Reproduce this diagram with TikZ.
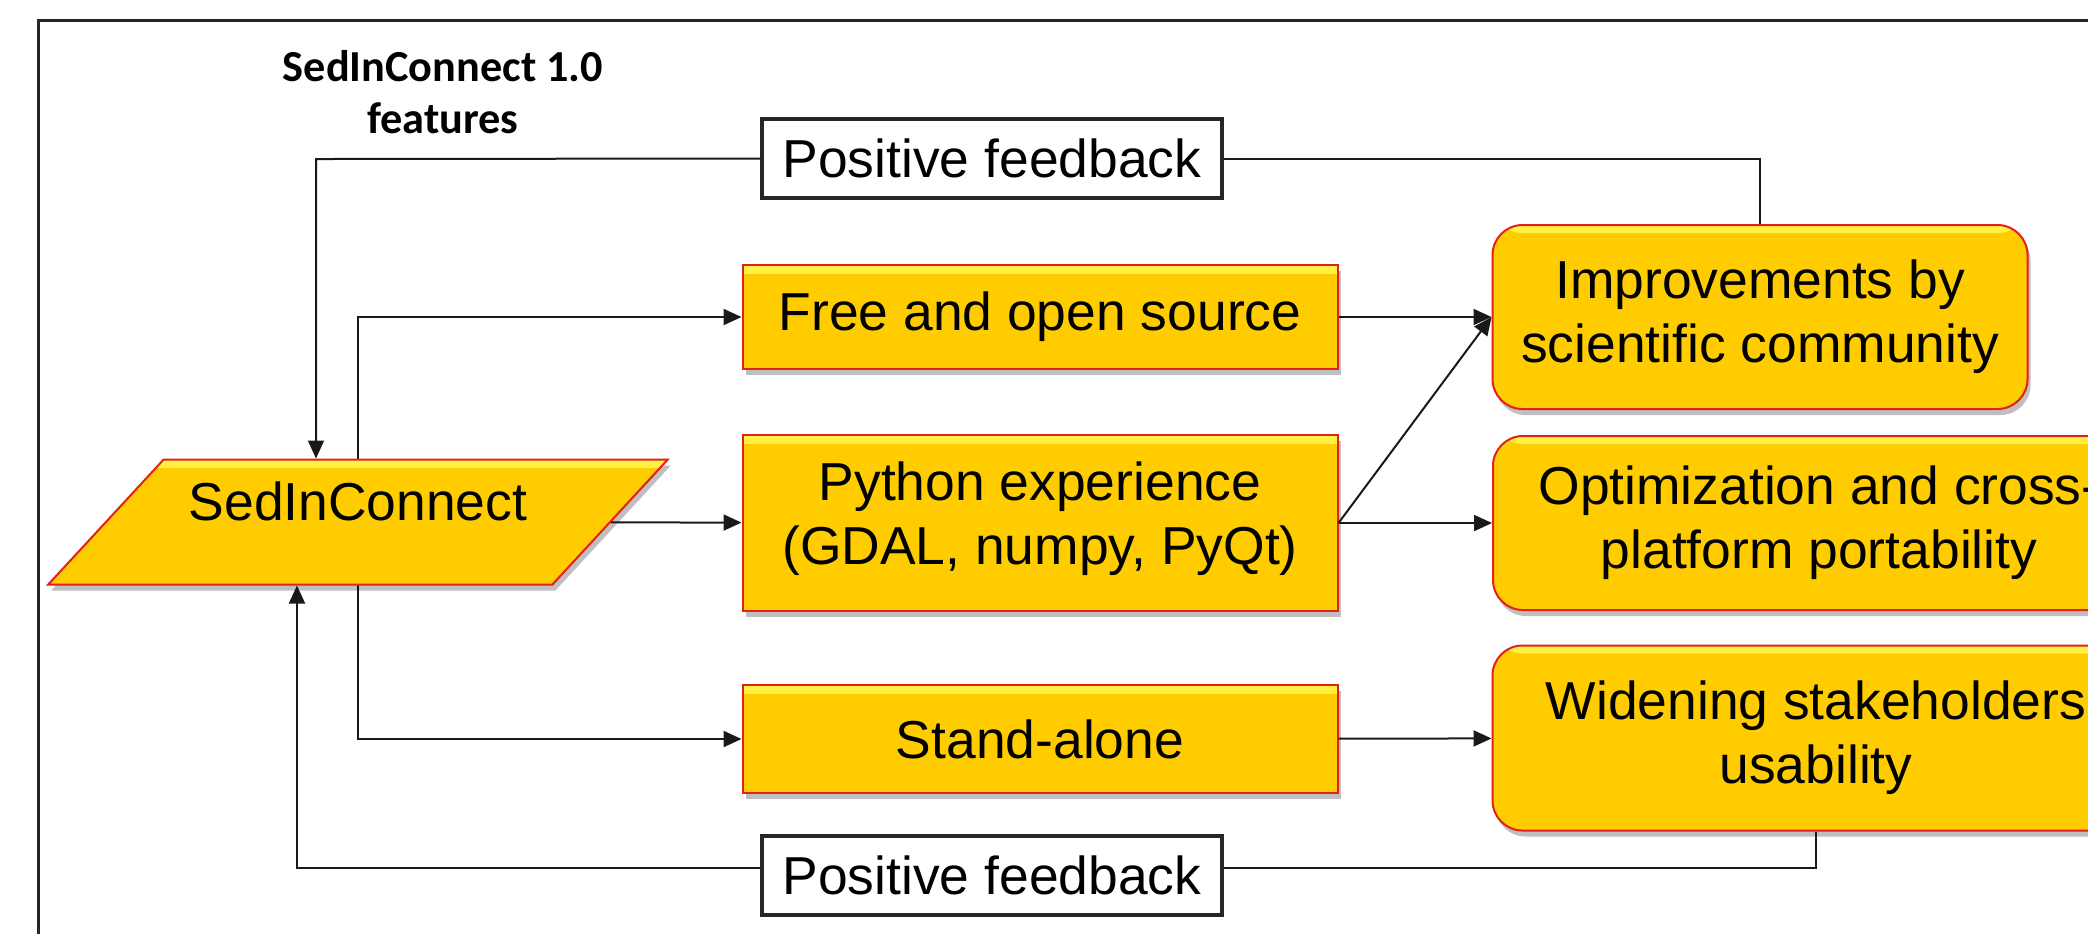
\documentclass[tikz,border=0pt]{standalone}
\usepackage{fontspec}
\setmainfont{Liberation Sans}
\newfontfamily\titlefont{Carlito}
\usetikzlibrary{arrows.meta,shapes.geometric,shadows,backgrounds}

\definecolor{boxyellow}{RGB}{255,204,0}
\definecolor{boxred}{RGB}{228,32,28}
\definecolor{bevel}{RGB}{255,243,70}

\begin{document}
\begin{tikzpicture}[x=0.1mm,y=-0.1mm,>={Triangle[length=1.8mm,width=1.6mm]},
  every node/.style={font=\fontsize{15.2}{18.2}\selectfont},
  feat node/.style={rectangle,fill=boxyellow,draw=boxred,line width=0.2mm,align=center,minimum width=59.5mm,
    drop shadow={shadow xshift=0.3mm,shadow yshift=-0.6mm,fill=black,opacity=0.25},
    path picture={\shade[top color=bevel,bottom color=boxyellow] (path picture bounding box.north west) rectangle ([yshift=-0.8mm]path picture bounding box.north east);}},
  gain node/.style={feat node,rounded corners=3mm},
  loop node/.style={rectangle,draw=black!85,line width=0.35mm,fill=white,minimum width=46mm,minimum height=7.9mm},
  link/.style={line width=0.2mm,black!90}]

	\useasboundingbox (0,0) rectangle (2088,933);
	\clip (0,0) rectangle (2088,933);

	% frame
	\draw[line width=0.3mm,black!85] (38,1100) -- (38,20) -- (2300,20);

	\node[align=center,font=\titlefont\bfseries\fontsize{12.6}{14.8}\selectfont] (t) at (443,92) {SedInConnect 1.0\\features};

	\node[feat node,trapezium,trapezium left angle=45,trapezium right angle=135,trapezium stretches=true,
	  minimum width=62mm,minimum height=12.5mm,text height=4mm,text depth=4.4mm] (1) at (358,522) {SedInConnect};

	\node[feat node,minimum height=10.4mm] (2) at (1040,317) {Free and open source};
	\node[feat node,minimum height=17.6mm,text depth=2mm] (3) at (1040,523) {Python experience\\(GDAL, numpy, PyQt)};
	\node[feat node,minimum height=10.8mm] (4) at (1040,739) {Stand-alone};

	\node[gain node,minimum width=53.5mm,minimum height=18.4mm] (5) at (1760,317) {Improvements by\\scientific community};
	\node[gain node,minimum width=65.2mm,minimum height=17.4mm] (6) at (1819,523) {Optimization and cross-\\platform portability};
	\node[gain node,minimum width=64.7mm,minimum height=18.5mm] (7) at (1816,738) {Widening stakeholders\\usability};

	\node[loop node] (8) at (992,158.5) {Positive feedback};
	\node[loop node] (9) at (992,875.5) {Positive feedback};

	\begin{scope}[on background layer]
		\draw[link,->] (1.center) |- (2);
		\draw[link,->] (1.center) |- (4);
	\end{scope}

	\path[link,->]
	(1) edge (3)
	(2) edge (5)
	(3.east) edge (5.west)
	(3) edge (6)
	(4) edge (7);

	% feedback loops
	\coordinate (a) at (316,159);
	\coordinate (b) at (297,868);
	\draw[link] (5.north) |- (8.east);
	\draw[link,->] (8.west) -- (a) -- (a |- 1.top side);
	\draw[link] (7.south) |- (9.east |- b);
	\draw[link,->] (9.west |- b) -- (b) -- (b |- 1.bottom side);
\end{tikzpicture}
\end{document}
